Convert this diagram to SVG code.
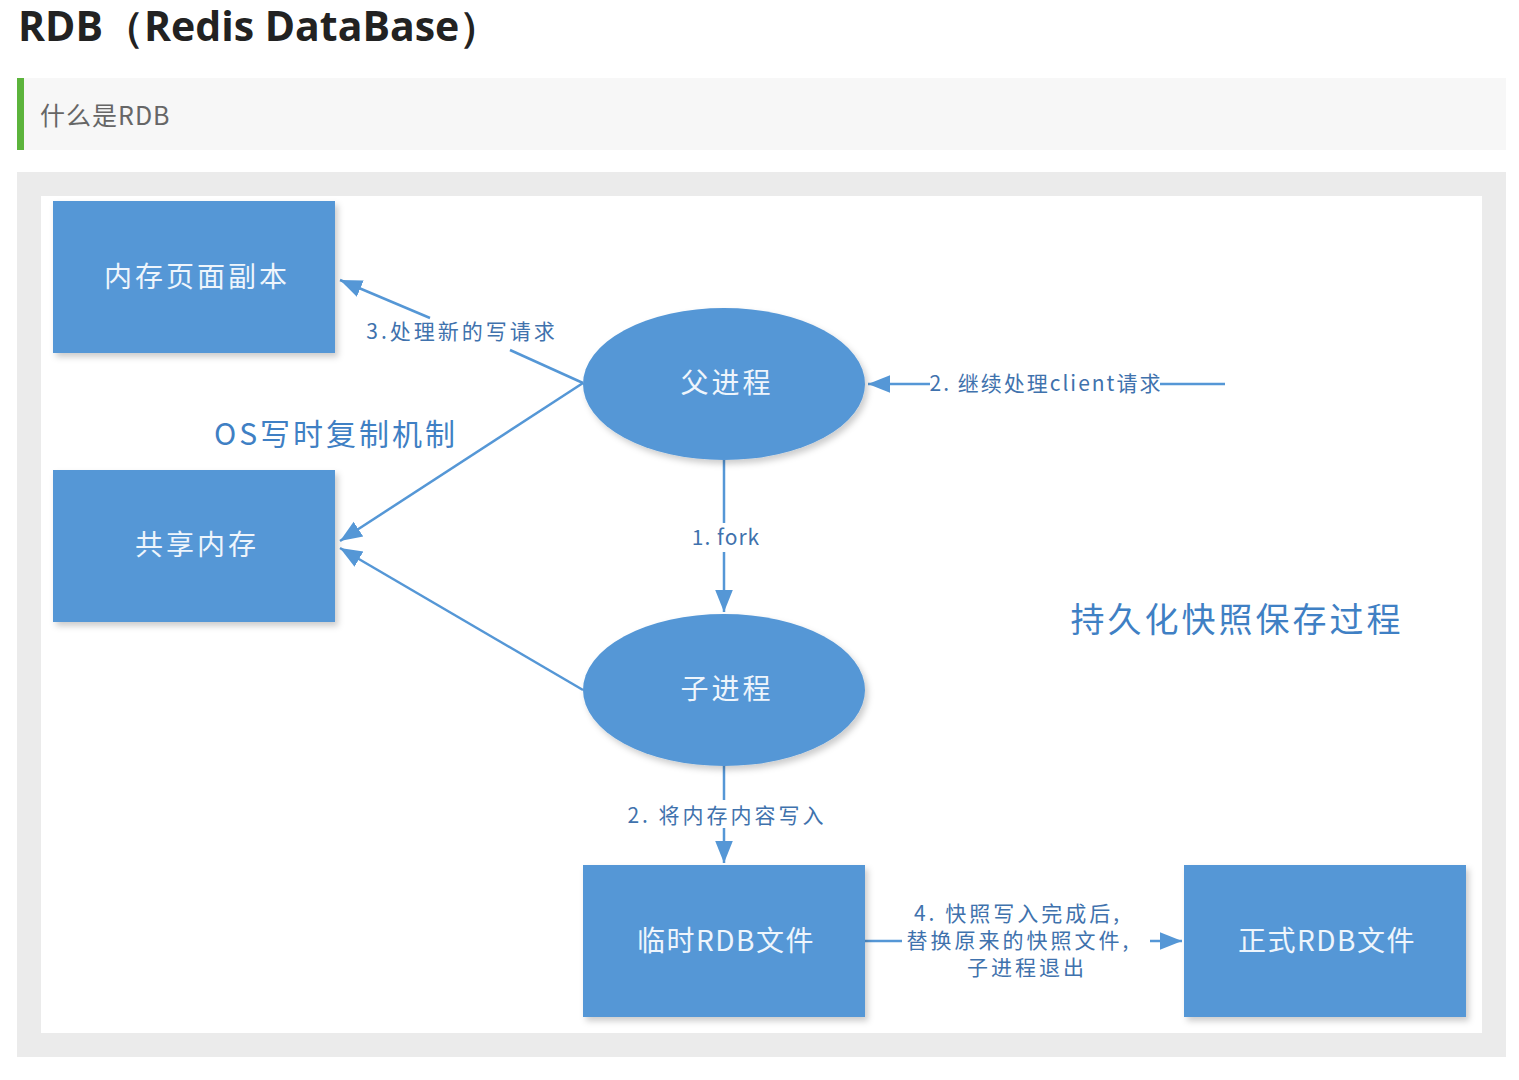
<svg xmlns="http://www.w3.org/2000/svg" width="1519" height="1080" viewBox="0 0 1519 1080">
<style>
.box{fill:#5597d6}
.ntext{font-family:"Noto Sans CJK SC","Noto Sans",sans-serif;font-size:28px;letter-spacing:3px;fill:#eef5fc;text-anchor:middle}
.lbl{font-family:"Noto Sans CJK SC","Noto Sans",sans-serif;font-size:21px;letter-spacing:3px;fill:#3f72ad;text-anchor:middle}
.big{font-family:"Noto Sans CJK SC","Noto Sans",sans-serif;fill:#3f80c4;text-anchor:middle;letter-spacing:3px}
.ln{stroke:#5597d6;stroke-width:2.5;fill:none}
</style>
<defs>
<marker id="ah2" viewBox="0 0 10 10" refX="10" refY="5" markerWidth="22" markerHeight="22" markerUnits="userSpaceOnUse" orient="auto">
<path d="M0,1 L10,5 L0,9 z" fill="#5597d6"/>
</marker>
<filter id="sh" x="-10%" y="-10%" width="125%" height="125%">
<feDropShadow dx="3" dy="4" stdDeviation="3" flood-color="#000" flood-opacity="0.2"/>
</filter>
</defs>
<rect width="1519" height="1080" fill="#ffffff"/>
<text x="18" y="41" font-family="'Open Sans','Noto Sans',sans-serif" font-weight="bold" font-size="41" fill="#222">RDB（Redis DataBase）</text>
<rect x="17" y="78" width="1489" height="72" fill="#f7f7f7"/>
<rect x="17" y="78" width="7" height="72" fill="#5cb43c"/>
<text x="40" y="125" font-family="'Noto Sans CJK SC','Noto Sans',sans-serif" font-size="25" letter-spacing="1" fill="#666">什么是RDB</text>
<rect x="17" y="172" width="1489" height="885" fill="#ebebeb"/>
<rect x="41" y="196" width="1441" height="837" fill="#ffffff"/>

<g id="connectors">
<line class="ln" x1="430" y1="318" x2="340" y2="280" marker-end="url(#ah2)"/>
<line class="ln" x1="583" y1="383" x2="510" y2="350"/>
<line class="ln" x1="583" y1="383" x2="340" y2="541" marker-end="url(#ah2)"/>
<line class="ln" x1="583" y1="690" x2="340" y2="548" marker-end="url(#ah2)"/>
<line class="ln" x1="724" y1="460" x2="724" y2="523"/>
<line class="ln" x1="724" y1="552" x2="724" y2="612" marker-end="url(#ah2)"/>
<line class="ln" x1="1225" y1="384" x2="1160" y2="384"/>
<line class="ln" x1="930" y1="384" x2="868" y2="384" marker-end="url(#ah2)"/>
<line class="ln" x1="724" y1="766" x2="724" y2="800"/>
<line class="ln" x1="724" y1="828" x2="724" y2="863" marker-end="url(#ah2)"/>
<line class="ln" x1="865" y1="941" x2="902" y2="941"/>
<line class="ln" x1="1150" y1="941" x2="1182" y2="941" marker-end="url(#ah2)"/>
<text class="lbl" x="462" y="339">3.处理新的写请求</text>
<text class="lbl" x="1046" y="391" style="letter-spacing:2px">2. 继续处理client请求</text>
<text class="lbl" x="726" y="545" style="letter-spacing:1px">1. fork</text>
<text class="lbl" x="727" y="823">2. 将内存内容写入</text>
<text class="lbl" x="1018" y="921">4. 快照写入完成后,</text>
<text class="lbl" x="1019" y="948">替换原来的快照文件,</text>
<text class="lbl" x="1027" y="975">子进程退出</text>
</g>

<text class="big" x="336" y="445" font-size="30">OS写时复制机制</text>
<text class="big" x="1237" y="632" font-size="34">持久化快照保存过程</text>

<g id="node-page-copy">
<rect class="box" x="53" y="201" width="282" height="152" filter="url(#sh)"/>
<text class="ntext" x="197" y="287">内存页面副本</text>
</g>
<g id="node-shared-mem">
<rect class="box" x="53" y="470" width="282" height="152" filter="url(#sh)"/>
<text class="ntext" x="197" y="555">共享内存</text>
</g>
<g id="node-parent">
<ellipse class="box" cx="724" cy="384" rx="141" ry="76" filter="url(#sh)"/>
<text class="ntext" x="727" y="393">父进程</text>
</g>
<g id="node-child">
<ellipse class="box" cx="724" cy="690" rx="141" ry="76" filter="url(#sh)"/>
<text class="ntext" x="727" y="699">子进程</text>
</g>
<g id="node-temp-rdb">
<rect class="box" x="583" y="865" width="282" height="152" filter="url(#sh)"/>
<text class="ntext" x="726" y="951" style="letter-spacing:1.5px">临时RDB文件</text>
</g>
<g id="node-final-rdb">
<rect class="box" x="1184" y="865" width="282" height="152" filter="url(#sh)"/>
<text class="ntext" x="1327" y="951" style="letter-spacing:1.5px">正式RDB文件</text>
</g>
</svg>
